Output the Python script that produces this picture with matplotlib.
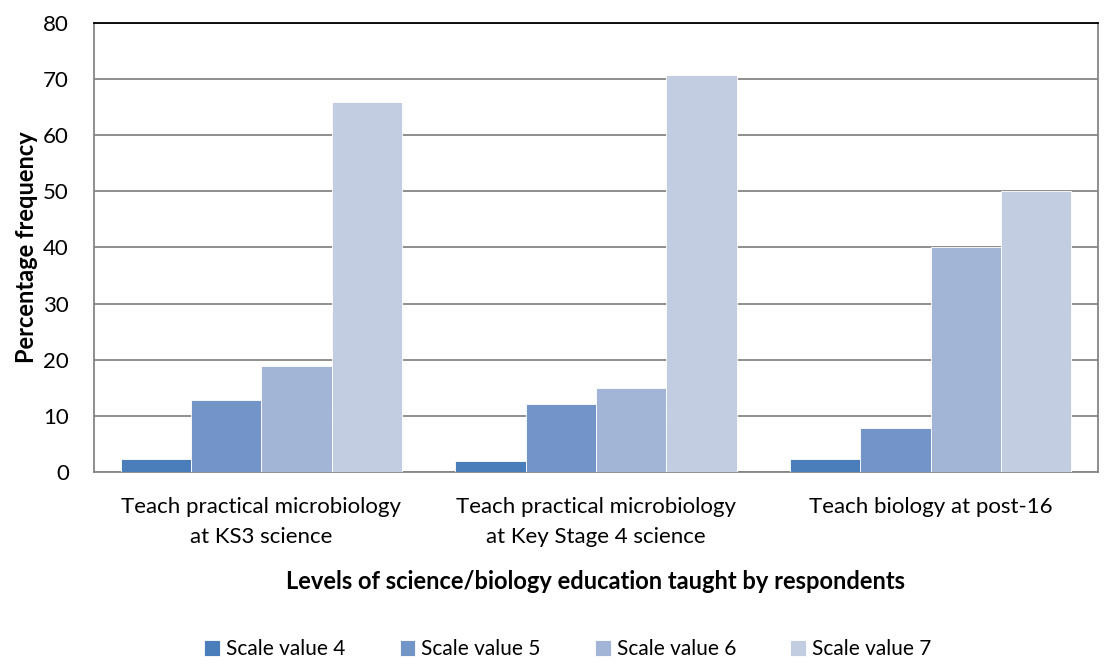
import numpy as np
import matplotlib
matplotlib.use("Agg")
from matplotlib import pyplot as plt

# values
categories = ["Teach practical microbiology\nat KS3 science",
              "Teach practical microbiology\nat Key Stage 4 science",
              "Teach biology at post-16"]
series_names = ["Scale value 4", "Scale value 5", "Scale value 6", "Scale value 7"]
scale4 = [2.3, 2.0, 2.3]
scale5 = [12.8, 12.1, 7.8]
scale6 = [18.9, 15.0, 40.1]
scale7 = [65.9, 70.7, 50.0]
colors = ["#4A7EBB", "#7394C6", "#A2B5D6", "#C2CDE2"]

plt.rcParams['font.family'] = ['Lato', 'DejaVu Sans']

fig = plt.figure(figsize=(11.04, 6.64), dpi=100)
ax = fig.add_axes([94 / 1104, 1 - 472 / 664, (1098 - 94) / 1104, (472 - 23) / 664])

x = np.arange(len(categories))
w = 0.21
for i, (vals, name) in enumerate(zip([scale4, scale5, scale6, scale7], series_names)):
    ax.bar(x + (i - 1.5) * w, vals, w, color=colors[i], label=name, zorder=3,
           edgecolor="white", linewidth=0.6)

ax.set_xlim(-0.5, 2.5)
ax.set_ylim(0, 80)
ax.set_yticks(range(0, 81, 10))
ax.yaxis.grid(True, color="#868686", linewidth=1.3, zorder=0)
ax.set_xticks(x)
ax.set_xticklabels(categories, fontsize=16, linespacing=1.65)
ax.tick_params(axis="y", labelsize=16, length=0, pad=18)
ax.tick_params(axis="x", length=0, pad=18)
for s in ax.spines.values():
    s.set_color("#868686")
    s.set_linewidth(1.3)
ax.spines["top"].set_color("black")

ax.set_ylabel("Percentage frequency", fontsize=17, fontweight="bold", labelpad=4)
ax.set_xlabel("Levels of science/biology education taught by respondents",
              fontsize=17, fontweight="bold", labelpad=16)

ax.legend(loc="center", bbox_to_anchor=(0.472, -0.395), ncol=4, frameon=False,
          fontsize=15, handlelength=0.75, handleheight=0.75, handletextpad=0.3,
          columnspacing=2.6)

fig.savefig("out.png", dpi=100)
